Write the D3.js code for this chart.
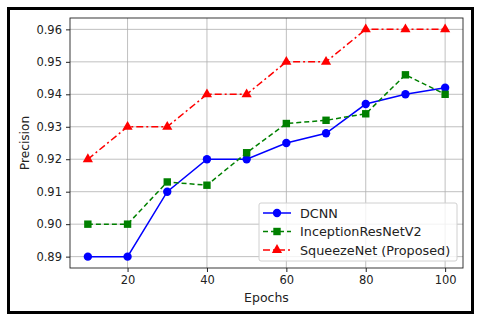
<!DOCTYPE html>
<html>
<head>
<meta charset="utf-8">
<script src="https://cdn.jsdelivr.net/npm/d3@7"></script>
<style>
  body { margin: 0; background: #fff; }
  text { font-family: "DejaVu Sans", sans-serif; fill: #222; }
</style>
</head>
<body>
<div id="chart"></div>
<script>
// Data
var epochs = [10, 20, 30, 40, 50, 60, 70, 80, 90, 100];
var dcnn = [0.89, 0.89, 0.91, 0.92, 0.92, 0.925, 0.928, 0.937, 0.94, 0.942];
var inception = [0.90, 0.90, 0.913, 0.912, 0.922, 0.931, 0.932, 0.934, 0.946, 0.94];
var squeeze = [0.92, 0.93, 0.93, 0.94, 0.94, 0.95, 0.95, 0.96, 0.96, 0.96];
var seriesNames = ["DCNN", "InceptionResNetV2", "SqueezeNet (Proposed)"];
var xTicks = [20, 40, 60, 80, 100];
var yTicks = [0.89, 0.90, 0.91, 0.92, 0.93, 0.94, 0.95, 0.96];

var svgWidth = 480;
var svgHeight = 320;

var margin = { top: 18, right: 17, bottom: 52, left: 70 };
var width = svgWidth - margin.left - margin.right;
var height = svgHeight - margin.top - margin.bottom;

var svg = d3.select("#chart")
    .append("svg")
    .attr("width", svgWidth)
    .attr("height", svgHeight);

// outer frame
svg.append("rect")
    .attr("x", 8.5).attr("y", 8.5)
    .attr("width", 464).attr("height", 304)
    .attr("fill", "none")
    .attr("stroke", "#000")
    .attr("stroke-width", 3);

var chartGroup = svg.append("g")
    .attr("transform", `translate(${margin.left}, ${margin.top})`);

var xScale = d3.scaleLinear().domain([5.5, 104.5]).range([0, width]);
var yScale = d3.scaleLinear().domain([0.8865, 0.9635]).range([height, 0]);

// grid
chartGroup.append("g").selectAll("line")
    .data(xTicks).enter().append("line")
    .attr("x1", d => xScale(d)).attr("x2", d => xScale(d))
    .attr("y1", 0).attr("y2", height)
    .attr("stroke", "#b0b0b0").attr("stroke-width", 0.8);

chartGroup.append("g").selectAll("line")
    .data(yTicks).enter().append("line")
    .attr("y1", d => yScale(d)).attr("y2", d => yScale(d))
    .attr("x1", 0).attr("x2", width)
    .attr("stroke", "#b0b0b0").attr("stroke-width", 0.8);

// axes
var bottomAxis = d3.axisBottom(xScale).tickValues(xTicks).tickSize(4).tickPadding(4).tickFormat(d3.format("d"));
var leftAxis = d3.axisLeft(yScale).tickValues(yTicks).tickSize(4).tickPadding(4).tickFormat(d3.format(".2f"));

var xAxis = chartGroup.append("g")
    .attr("transform", `translate(0, ${height})`)
    .call(bottomAxis);
var yAxis = chartGroup.append("g").call(leftAxis);

[xAxis, yAxis].forEach(function(ax) {
    ax.select(".domain").remove();
    ax.selectAll("text").style("font-size", "11.5px").attr("fill", "#222");
    ax.selectAll("line").attr("stroke", "#222");
});

// spines
chartGroup.append("rect")
    .attr("width", width).attr("height", height)
    .attr("fill", "none").attr("stroke", "#222").attr("stroke-width", 0.9);

var series = [
    { name: seriesNames[0], values: dcnn, color: "#0000ff", dash: null, marker: "circle" },
    { name: seriesNames[1], values: inception, color: "#008000", dash: "5,3", marker: "square" },
    { name: seriesNames[2], values: squeeze, color: "#ff0000", dash: "7,3,2,3", marker: "triangle" }
];

var symbolTypes = { circle: d3.symbolCircle, square: d3.symbolSquare, triangle: d3.symbolTriangle };
var symbolSizes = { circle: 55, square: 55, triangle: 45 };

var line = d3.line()
    .x((d, i) => xScale(epochs[i]))
    .y(d => yScale(d));

series.forEach(function(s) {
    chartGroup.append("path")
        .datum(s.values)
        .attr("d", line)
        .attr("fill", "none")
        .attr("stroke", s.color)
        .attr("stroke-width", 1.5)
        .attr("stroke-dasharray", s.dash);

    chartGroup.selectAll(".m-" + s.marker)
        .data(s.values).enter()
        .append("path")
        .attr("class", "m-" + s.marker)
        .attr("transform", (d, i) => `translate(${xScale(epochs[i])}, ${yScale(d)})`)
        .attr("d", d3.symbol().type(symbolTypes[s.marker]).size(symbolSizes[s.marker]))
        .attr("fill", s.color);
});

// axis labels
svg.append("text")
    .attr("x", margin.left + width / 2)
    .attr("y", 302)
    .attr("text-anchor", "middle")
    .style("font-size", "12.5px")
    .text("Epochs");

svg.append("text")
    .attr("transform", `translate(29, ${margin.top + height / 2}) rotate(-90)`)
    .attr("text-anchor", "middle")
    .style("font-size", "12.2px")
    .text("Precision");

// legend
var legend = svg.append("g").attr("transform", "translate(259, 203)");
legend.append("rect")
    .attr("width", 198).attr("height", 58)
    .attr("rx", 2)
    .attr("fill", "#fff").attr("fill-opacity", 0.8)
    .attr("stroke", "#d0d0d0");

series.forEach(function(s, i) {
    var y = 10 + i * 18.5;
    legend.append("line")
        .attr("x1", 4).attr("x2", 32)
        .attr("y1", y).attr("y2", y)
        .attr("stroke", s.color).attr("stroke-width", 1.5)
        .attr("stroke-dasharray", s.dash);
    legend.append("path")
        .attr("transform", `translate(18, ${y})`)
        .attr("d", d3.symbol().type(symbolTypes[s.marker]).size(symbolSizes[s.marker]))
        .attr("fill", s.color);
    legend.append("text")
        .attr("x", 41).attr("y", y + 4.5)
        .style("font-size", "12.8px")
        .text(s.name);
});
</script>
</body>
</html>
